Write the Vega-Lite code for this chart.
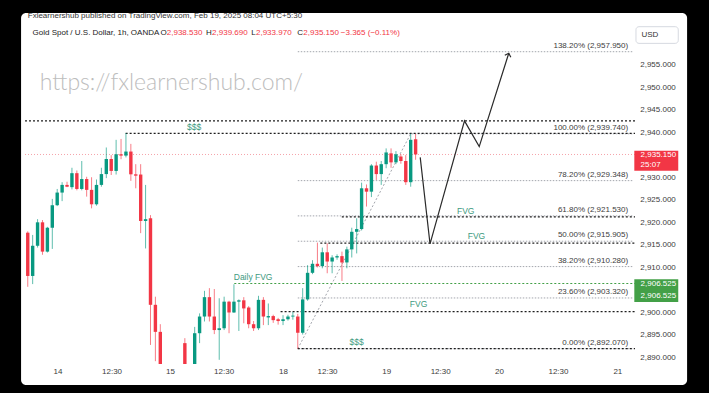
{
  "$schema": "https://vega.github.io/schema/vega-lite/v6.json",
  "width": 620,
  "height": 342,
  "autosize": "none",
  "padding": {"left": 20, "top": 22, "right": 69, "bottom": 29},
  "background": "black",
  "config": {"view": {"stroke": null}, "font": "Liberation Sans", "axis": {"labelOverlap": false}},
  "datasets": {
    "candles": [
      {"i":0,"o":2917.8,"h":2918.1,"l":2905.8,"c":2908.2},
      {"i":1,"o":2908.2,"h":2917.3,"l":2906.4,"c":2914.9},
      {"i":2,"o":2914.9,"h":2920.8,"l":2914.5,"c":2920.1},
      {"i":3,"o":2920.1,"h":2920.6,"l":2912.9,"c":2913.6},
      {"i":4,"o":2913.6,"h":2919.1,"l":2913.4,"c":2918.9},
      {"i":5,"o":2918.9,"h":2925.3,"l":2914.2,"c":2923.9},
      {"i":6,"o":2923.9,"h":2927.5,"l":2923.7,"c":2926.7},
      {"i":7,"o":2926.7,"h":2929.0,"l":2924.8,"c":2928.4},
      {"i":8,"o":2928.4,"h":2929.1,"l":2927.9,"c":2928.0},
      {"i":9,"o":2927.9,"h":2932.2,"l":2927.4,"c":2931.0},
      {"i":10,"o":2931.0,"h":2931.6,"l":2927.2,"c":2927.5},
      {"i":11,"o":2927.5,"h":2933.7,"l":2927.2,"c":2929.7},
      {"i":12,"o":2929.7,"h":2930.2,"l":2925.8,"c":2927.3},
      {"i":13,"o":2927.3,"h":2930.1,"l":2923.2,"c":2924.1},
      {"i":14,"o":2924.1,"h":2929.6,"l":2923.8,"c":2928.4},
      {"i":15,"o":2928.4,"h":2932.2,"l":2928.0,"c":2930.8},
      {"i":16,"o":2930.8,"h":2936.7,"l":2929.9,"c":2934.15},
      {"i":17,"o":2934.15,"h":2935.0,"l":2930.6,"c":2931.5},
      {"i":18,"o":2931.5,"h":2938.4,"l":2930.7,"c":2935.2},
      {"i":19,"o":2935.2,"h":2938.6,"l":2934.1,"c":2934.9},
      {"i":20,"o":2934.9,"h":2939.9,"l":2934.5,"c":2935.8},
      {"i":21,"o":2935.8,"h":2937.5,"l":2929.3,"c":2930.75},
      {"i":22,"o":2930.75,"h":2933.0,"l":2927.65,"c":2930.45},
      {"i":23,"o":2930.7,"h":2933.0,"l":2917.7,"c":2920.4},
      {"i":24,"o":2920.4,"h":2928.4,"l":2914.3,"c":2920.8},
      {"i":25,"o":2921.0,"h":2921.7,"l":2892.9,"c":2901.8},
      {"i":26,"o":2901.8,"h":2903.6,"l":2889.3,"c":2895.8},
      {"i":27,"o":2895.8,"h":2897.5,"l":2886.5,"c":2888.4},
      {"i":28,"o":2888.4,"h":2888.5,"l":2880.0,"c":2882.0},
      {"i":29,"o":2882.0,"h":2885.0,"l":2878.0,"c":2880.0},
      {"i":30,"o":2880.0,"h":2884.0,"l":2877.0,"c":2883.0},
      {"i":31,"o":2883.0,"h":2886.0,"l":2879.0,"c":2881.5},
      {"i":32,"o":2893.3,"h":2894.4,"l":2883.0,"c":2886.0},
      {"i":33,"o":2886.0,"h":2888.2,"l":2882.0,"c":2884.0},
      {"i":34,"o":2884.5,"h":2896.9,"l":2883.5,"c":2895.5},
      {"i":35,"o":2895.5,"h":2899.9,"l":2893.3,"c":2899.2},
      {"i":36,"o":2899.2,"h":2904.9,"l":2898.1,"c":2903.5},
      {"i":37,"o":2903.5,"h":2905.5,"l":2898.1,"c":2899.2},
      {"i":38,"o":2899.2,"h":2905.3,"l":2895.3,"c":2896.2},
      {"i":39,"o":2896.2,"h":2903.25,"l":2889.6,"c":2896.6},
      {"i":40,"o":2896.6,"h":2903.6,"l":2896.2,"c":2902.5},
      {"i":41,"o":2902.5,"h":2902.7,"l":2895.5,"c":2900.1},
      {"i":42,"o":2900.1,"h":2906.35,"l":2900.0,"c":2902.5},
      {"i":43,"o":2902.5,"h":2903.0,"l":2896.0,"c":2902.8},
      {"i":44,"o":2902.8,"h":2903.5,"l":2897.7,"c":2901.0},
      {"i":45,"o":2901.2,"h":2901.5,"l":2896.6,"c":2897.5},
      {"i":46,"o":2897.5,"h":2898.2,"l":2896.0,"c":2896.6},
      {"i":47,"o":2896.6,"h":2903.8,"l":2896.2,"c":2902.9},
      {"i":48,"o":2902.9,"h":2903.5,"l":2897.3,"c":2899.2},
      {"i":49,"o":2899.0,"h":2902.1,"l":2897.3,"c":2899.3},
      {"i":50,"o":2899.3,"h":2899.6,"l":2897.8,"c":2898.4},
      {"i":51,"o":2898.6,"h":2898.9,"l":2897.4,"c":2898.2},
      {"i":52,"o":2898.2,"h":2899.5,"l":2897.3,"c":2898.6},
      {"i":53,"o":2898.6,"h":2899.6,"l":2898.3,"c":2899.2},
      {"i":54,"o":2899.2,"h":2900.2,"l":2898.5,"c":2899.4},
      {"i":55,"o":2899.2,"h":2899.8,"l":2892.07,"c":2895.6},
      {"i":56,"o":2895.6,"h":2905.5,"l":2895.2,"c":2903.0},
      {"i":57,"o":2903.0,"h":2910.6,"l":2902.7,"c":2908.9},
      {"i":58,"o":2908.9,"h":2911.7,"l":2908.6,"c":2910.9},
      {"i":59,"o":2910.9,"h":2915.6,"l":2910.1,"c":2910.4},
      {"i":60,"o":2910.4,"h":2914.5,"l":2909.9,"c":2913.45},
      {"i":61,"o":2913.45,"h":2915.45,"l":2908.8,"c":2911.4},
      {"i":62,"o":2911.4,"h":2912.8,"l":2908.8,"c":2912.3},
      {"i":63,"o":2912.3,"h":2913.0,"l":2911.8,"c":2912.6},
      {"i":64,"o":2912.6,"h":2913.6,"l":2907.1,"c":2911.2},
      {"i":65,"o":2911.2,"h":2914.7,"l":2909.9,"c":2914.1},
      {"i":66,"o":2914.1,"h":2918.9,"l":2912.3,"c":2918.0},
      {"i":67,"o":2918.0,"h":2921.0,"l":2913.2,"c":2918.6},
      {"i":68,"o":2918.6,"h":2928.9,"l":2918.3,"c":2927.65},
      {"i":69,"o":2927.65,"h":2928.5,"l":2923.6,"c":2926.9},
      {"i":70,"o":2926.9,"h":2933.0,"l":2925.7,"c":2932.7},
      {"i":71,"o":2932.7,"h":2933.55,"l":2929.5,"c":2930.8},
      {"i":72,"o":2930.8,"h":2933.7,"l":2928.4,"c":2933.0},
      {"i":73,"o":2933.0,"h":2936.5,"l":2932.1,"c":2935.6},
      {"i":74,"o":2935.4,"h":2936.5,"l":2932.2,"c":2933.4},
      {"i":75,"o":2933.4,"h":2935.9,"l":2933.0,"c":2935.2},
      {"i":76,"o":2934.7,"h":2935.2,"l":2933.1,"c":2933.7},
      {"i":77,"o":2933.7,"h":2935.0,"l":2928.4,"c":2929.0},
      {"i":78,"o":2929.0,"h":2939.74,"l":2928.0,"c":2938.4},
      {"i":79,"o":2938.53,"h":2939.69,"l":2933.97,"c":2935.15}
    ],
    "priceTicks": [
      {"v":2890},{"v":2895},{"v":2900},{"v":2910},{"v":2915},{"v":2920},
      {"v":2925},{"v":2930},{"v":2940},{"v":2945},{"v":2950},{"v":2955}
    ],
    "fib": [
      {"lab":"138.20% (2,957.950)","p":2957.95},
      {"lab":"100.00% (2,939.740)","p":2939.74},
      {"lab":"78.20% (2,929.348)","p":2929.348},
      {"lab":"61.80% (2,921.530)","p":2921.53},
      {"lab":"50.00% (2,915.905)","p":2915.905},
      {"lab":"38.20% (2,910.280)","p":2910.28},
      {"lab":"23.60% (2,903.320)","p":2903.32},
      {"lab":"0.00% (2,892.070)","p":2892.07}
    ],
    "fibDiag": [
      {"i":55,"p":2892.07},
      {"i":78,"p":2939.74}
    ],
    "levels": [
      {"p":2942.6,"from":-0.56},
      {"p":2939.85,"from":19.94},
      {"p":2921.3,"from":63.97},
      {"p":2915.5,"from":59.6},
      {"p":2900.3,"from":51.5},
      {"p":2892.07,"from":55}
    ],
    "zigzag": [
      {"k":0,"i":79.94,"p":2934.5},
      {"k":1,"i":81.94,"p":2915.3},
      {"k":2,"i":88.96,"p":2942.6},
      {"k":3,"i":91.96,"p":2936.9},
      {"k":4,"i":97.98,"p":2957.6}
    ],
    "notes": [
      {"t":"$$$","i":33.9,"p":2941.25},
      {"t":"$$$","i":66.97,"p":2893.55},
      {"t":"FVG","i":89.2,"p":2922.6},
      {"t":"FVG","i":91.4,"p":2917.1},
      {"t":"FVG","i":79.6,"p":2902.0},
      {"t":"Daily FVG","i":45.9,"p":2908.0}
    ],
    "headDark": [
      {"t":"Gold Spot / U.S. Dollar, 1h, OANDA","i":0.98},
      {"t":"O","i":27.03},
      {"t":"H","i":36.31},
      {"t":"L","i":45.53},
      {"t":"C","i":54.89}
    ],
    "headRed": [
      {"t":"2,938.530","i":28.32},
      {"t":"2,939.690","i":37.55},
      {"t":"2,933.970","i":46.49},
      {"t":"2,935.150","i":56.13},
      {"t":"\u22123.365 (\u22120.11%)","i":63.77}
    ]
  },
  "layer": [
    {
      "data": {"values": [{}]},
      "mark": {"type": "rect", "fill": "white", "cornerRadius": 5, "clip": false},
      "encoding": {
        "x": {"datum": -1.363, "type": "quantitative",
          "scale": {"domain": [-0.561, 123.69], "nice": false, "zero": false},
          "axis": {"title": null, "orient": "bottom",
            "values": [6.05, 17.07, 28.96, 39.9, 52.0, 60.96, 73.0, 84.0, 96.0, 108.0, 120.1],
            "labelExpr": "datum.value < 10 ? '14' : datum.value < 25 ? '12:30' : datum.value < 35 ? '15' : datum.value < 45 ? '12:30' : datum.value < 55 ? '18' : datum.value < 65 ? '12:30' : datum.value < 78 ? '19' : datum.value < 90 ? '12:30' : datum.value < 100 ? '20' : datum.value < 115 ? '12:30' : '21'",
            "ticks": false, "domain": false, "grid": false, "labelPadding": 3,
            "labelFontSize": 8, "labelColor": "#3c3c3c", "labelFont": "Liberation Sans",
            "labelOverlap": false, "labelFlush": false, "labelBound": false, "zindex": 1}},
        "x2": {"datum": 134.3},
        "y": {"datum": 2966.53, "type": "quantitative",
          "scale": {"domain": [2888.67, 2964.54], "nice": false, "zero": false},
          "axis": {"title": null, "orient": "right", "labels": false, "ticks": false, "domain": false, "grid": false}},
        "y2": {"datum": 2884.0}
      }
    },
    {
      "data": {"values": [{"t": "https://fxlearnershub.com/", "i": 2.44, "p": 2949.45}]},
      "mark": {"type": "text", "align": "left", "baseline": "alphabetic", "fontSize": 23, "font": "Lato", "fontWeight": 300, "color": "#bdbdbd"},
      "encoding": {
        "x": {"field": "i", "type": "quantitative"},
        "y": {"field": "p", "type": "quantitative"},
        "text": {"field": "t"}
      }
    },
    {
      "data": {"name": "fib"},
      "mark": {"type": "rule", "color": "#a3a6ad", "strokeWidth": 1, "strokeDash": [1.5, 1.5]},
      "encoding": {
        "x": {"datum": 55},
        "x2": {"datum": 123.3},
        "y": {"field": "p", "type": "quantitative"}
      }
    },
    {
      "data": {"name": "fibDiag"},
      "mark": {"type": "line", "color": "#a3a6ad", "strokeWidth": 1, "strokeDash": [2, 2]},
      "encoding": {
        "x": {"field": "i", "type": "quantitative"},
        "y": {"field": "p", "type": "quantitative"}
      }
    },
    {
      "data": {"values": [{"p": 2935.15}]},
      "mark": {"type": "rule", "color": "#f5a3aa", "strokeWidth": 1, "strokeDash": [1, 2]},
      "encoding": {
        "x": {"datum": -0.56},
        "x2": {"datum": 123.69},
        "y": {"field": "p", "type": "quantitative"}
      }
    },
    {
      "data": {"name": "levels"},
      "mark": {"type": "rule", "color": "#1e1e1e", "strokeWidth": 1.3, "strokeDash": [2, 2]},
      "encoding": {
        "x": {"field": "from", "type": "quantitative"},
        "x2": {"datum": 123.69},
        "y": {"field": "p", "type": "quantitative"}
      }
    },
    {
      "data": {"values": [{"p": 2906.525, "from": 42.07}]},
      "mark": {"type": "rule", "color": "#43a047", "strokeWidth": 1.2, "strokeDash": [2, 2]},
      "encoding": {
        "x": {"field": "from", "type": "quantitative"},
        "x2": {"datum": 123.69},
        "y": {"field": "p", "type": "quantitative"}
      }
    },
    {
      "data": {"name": "candles"},
      "mark": {"type": "rule", "strokeWidth": 1, "opacity": 0.65, "clip": true},
      "encoding": {
        "x": {"field": "i", "type": "quantitative"},
        "y": {"field": "l", "type": "quantitative"},
        "y2": {"field": "h"},
        "color": {"condition": {"test": "datum.c >= datum.o", "value": "#089981"}, "value": "#f23645"}
      }
    },
    {
      "data": {"name": "candles"},
      "mark": {"type": "bar", "width": 3.4, "clip": true},
      "encoding": {
        "x": {"field": "i", "type": "quantitative"},
        "y": {"field": "o", "type": "quantitative"},
        "y2": {"field": "c"},
        "color": {"condition": {"test": "datum.c >= datum.o", "value": "#089981"}, "value": "#f23645"}
      }
    },
    {
      "data": {"name": "zigzag"},
      "mark": {"type": "line", "color": "#2a2a2a", "strokeWidth": 1.2},
      "encoding": {
        "x": {"field": "i", "type": "quantitative"},
        "y": {"field": "p", "type": "quantitative"},
        "order": {"field": "k", "type": "quantitative"}
      }
    },
    {
      "data": {"values": [{}]},
      "mark": {"type": "point", "shape": "M-1,1L0,0L1,1", "angle": 17.8, "size": 40, "filled": false, "stroke": "#2a2a2a", "strokeWidth": 1.2, "opacity": 1},
      "encoding": {
        "x": {"datum": 97.98},
        "y": {"datum": 2957.6}
      }
    },
    {
      "data": {"name": "fib"},
      "mark": {"type": "text", "align": "right", "baseline": "alphabetic", "dy": -4, "fontSize": 8, "color": "#3c3c3c"},
      "encoding": {
        "x": {"datum": 122.3},
        "y": {"field": "p", "type": "quantitative"},
        "text": {"field": "lab"}
      }
    },
    {
      "data": {"name": "notes"},
      "mark": {"type": "text", "align": "center", "baseline": "middle", "fontSize": 8.5, "color": "#3d9a80"},
      "encoding": {
        "x": {"field": "i", "type": "quantitative"},
        "y": {"field": "p", "type": "quantitative"},
        "text": {"field": "t"}
      }
    },
    {
      "data": {"values": [{"t": "Fxlearnershub published on TradingView.com, Feb 19, 2025 08:04 UTC+5:30", "i": 0.0, "p": 2965.94}]},
      "mark": {"type": "text", "align": "left", "baseline": "middle", "fontSize": 8, "color": "#333333", "clip": false},
      "encoding": {
        "x": {"field": "i", "type": "quantitative"},
        "y": {"field": "p", "type": "quantitative"},
        "text": {"field": "t"}
      }
    },
    {
      "data": {"name": "headDark"},
      "mark": {"type": "text", "align": "left", "baseline": "middle", "fontSize": 8, "color": "#222222"},
      "encoding": {
        "x": {"field": "i", "type": "quantitative"},
        "y": {"datum": 2962.0},
        "text": {"field": "t"}
      }
    },
    {
      "data": {"name": "headRed"},
      "mark": {"type": "text", "align": "left", "baseline": "middle", "fontSize": 8, "color": "#f23645"},
      "encoding": {
        "x": {"field": "i", "type": "quantitative"},
        "y": {"datum": 2962.0},
        "text": {"field": "t"}
      }
    },
    {
      "data": {"name": "priceTicks"},
      "mark": {"type": "text", "align": "left", "baseline": "middle", "fontSize": 8, "color": "#3c3c3c", "clip": false},
      "encoding": {
        "x": {"datum": 124.75},
        "y": {"field": "v", "type": "quantitative"},
        "text": {"field": "v", "type": "quantitative", "format": ",.3f"}
      }
    },
    {
      "data": {"values": [{}]},
      "mark": {"type": "rect", "fill": "white", "stroke": "#d6d9e0", "strokeWidth": 1, "cornerRadius": 3, "clip": false},
      "encoding": {
        "x": {"datum": 123.89}, "x2": {"datum": 132.5},
        "y": {"datum": 2963.5}, "y2": {"datum": 2959.8}
      }
    },
    {
      "data": {"values": [{}]},
      "mark": {"type": "text", "text": "USD", "align": "left", "baseline": "middle", "fontSize": 8, "color": "#333333"},
      "encoding": {"x": {"datum": 125.0}, "y": {"datum": 2961.65}}
    },
    {
      "data": {"values": [{}]},
      "mark": {"type": "rect", "fill": "#f23645", "clip": false},
      "encoding": {
        "x": {"datum": 123.55}, "x2": {"datum": 132.5},
        "y": {"datum": 2936.0}, "y2": {"datum": 2931.55}
      }
    },
    {
      "data": {"values": [{}]},
      "mark": {"type": "rect", "fill": "#43a047", "clip": false},
      "encoding": {
        "x": {"datum": 123.55}, "x2": {"datum": 132.5},
        "y": {"datum": 2907.46}, "y2": {"datum": 2902.43}
      }
    },
    {
      "data": {"values": [
        {"t": "2,935.150", "p": 2935.04},
        {"t": "25:07", "p": 2932.8},
        {"t": "2,906.525", "p": 2906.35},
        {"t": "2,906.525", "p": 2903.76}
      ]},
      "mark": {"type": "text", "align": "left", "baseline": "middle", "fontSize": 8, "color": "white"},
      "encoding": {
        "x": {"datum": 124.83},
        "y": {"field": "p", "type": "quantitative"},
        "text": {"field": "t"}
      }
    }
  ]
}
